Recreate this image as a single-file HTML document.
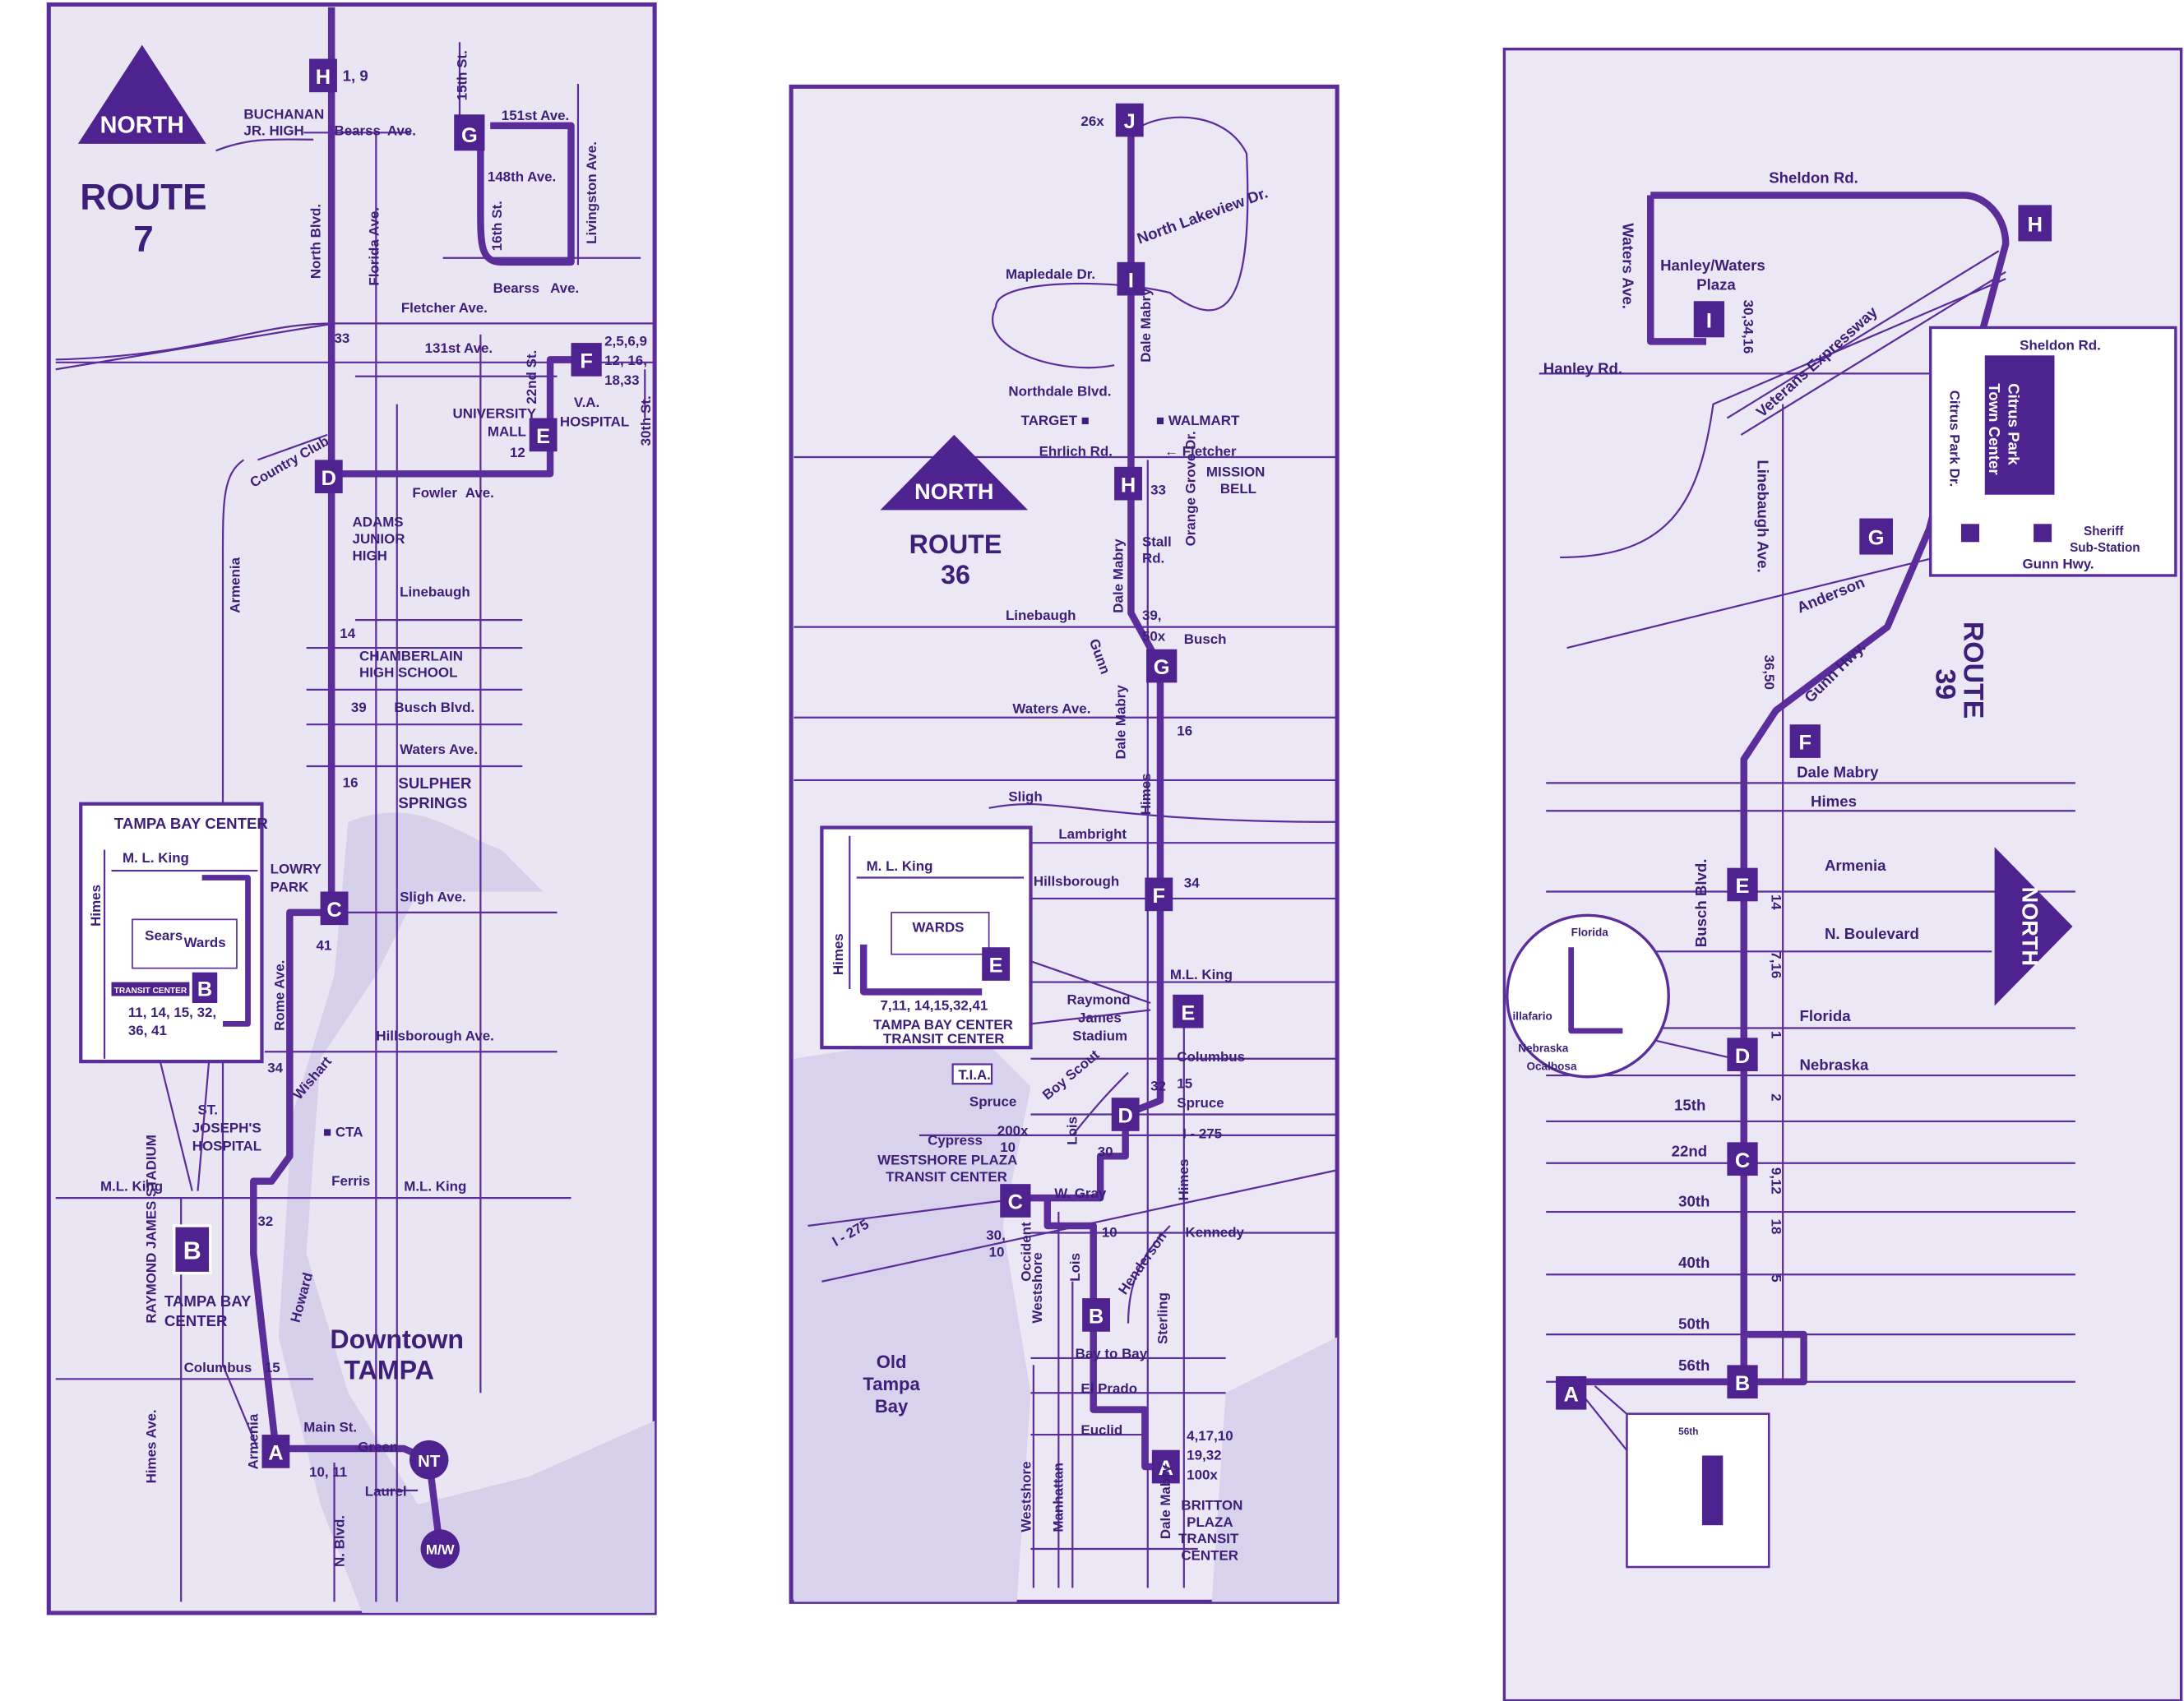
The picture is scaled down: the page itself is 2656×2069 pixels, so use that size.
<!DOCTYPE html>
<html><head><meta charset="utf-8"><style>
html,body{margin:0;padding:0;background:#fff}
svg{display:block}
text{font-family:"Liberation Sans",sans-serif;font-weight:bold;fill:#3d1f7a}
.l{stroke:#5a2d9a;stroke-width:1.3;fill:none}
.r{stroke:#5a2d9a;stroke-width:5;fill:none;stroke-linejoin:round}
.b{fill:#4e2390}
.w{fill:#fff;font-size:15px;font-weight:bold;text-anchor:middle}
.s{font-size:10px}
.m{font-size:11px}
</style></head><body>
<svg width="2656" height="2069" viewBox="0 0 1568 1221" xmlns="http://www.w3.org/2000/svg">
<rect width="1568" height="1221" fill="#fff"/>
<!-- panel backgrounds -->
<rect x="35" y="3" width="435" height="1155" fill="#e9e5f3" stroke="#5a2d9a" stroke-width="3"/>
<rect x="568" y="62" width="392" height="1088" fill="#ebe7f4" stroke="#5a2d9a" stroke-width="3"/>
<rect x="1080" y="35" width="486" height="1186" fill="#ebe7f4" stroke="#5a2d9a" stroke-width="2"/>
<!-- water shades -->
<path d="M250,590 C300,570 330,600 360,610 L390,640 L300,640 L270,700 L230,760 L220,900 L250,1000 L300,1080 L380,1060 L470,1020 L470,1158 L260,1158 L230,1080 L200,960 L210,800 L240,700 Z" fill="#d7d0ea"/>
<path d="M570,760 L700,740 L740,780 L720,880 L740,1000 L730,1150 L570,1150 Z" fill="#d9d2ec"/>
<path d="M880,1000 L960,960 L960,1150 L870,1150 Z" fill="#d9d2ec"/>

<!-- ===== PANEL 1 ===== -->
<g class="l">
<line x1="40" y1="260" x2="470" y2="260"/><line x1="40" y1="265" x2="240" y2="232"/>
<path d="M40,258 C150,255 180,232 240,232 L470,232"/>
<line x1="255" y1="270" x2="400" y2="270"/>
<line x1="218" y1="95" x2="295" y2="95"/>
<path d="M155,108 C180,98 200,100 225,100"/>
<line x1="318" y1="185" x2="460" y2="185"/>
<line x1="255" y1="445" x2="375" y2="445"/><line x1="220" y1="465" x2="375" y2="465"/>
<line x1="220" y1="495" x2="375" y2="495"/><line x1="220" y1="520" x2="375" y2="520"/>
<line x1="220" y1="550" x2="375" y2="550"/><line x1="250" y1="655" x2="400" y2="655"/>
<line x1="190" y1="755" x2="400" y2="755"/><line x1="40" y1="860" x2="410" y2="860"/>
<line x1="40" y1="990" x2="225" y2="990"/>
<line x1="270" y1="95" x2="270" y2="1150"/><line x1="285" y1="290" x2="285" y2="1150"/>
<line x1="345" y1="240" x2="345" y2="1000"/>
<path d="M175,330 C160,340 160,360 160,400 L160,980 L185,1040"/>
<line x1="130" y1="860" x2="130" y2="1150"/>
<line x1="240" y1="1050" x2="240" y2="1150"/>
<line x1="270" y1="1070" x2="300" y2="1070"/>
<line x1="330" y1="30" x2="330" y2="90"/><line x1="415" y1="60" x2="415" y2="190"/>
<line x1="463" y1="265" x2="463" y2="300"/>
<line x1="185" y1="330" x2="235" y2="312"/>
</g>
<path class="r" d="M238,5 V652 M240,655 H208 V830 L195,848 H182 V900 L198,1040 M198,1040 H290 L308,1048 L316,1112 M238,340 H395 V258 H420 M352,90 H410 V188 H360 C345,188 345,175 345,150 V90"/>
<polygon points="56,103 102,32 148,103" class="b"/><text x="102" y="95" class="w" style="font-size:17px">NORTH</text>
<text x="103" y="150" style="font-size:26px;font-family:'Liberation Sans Narrow','Liberation Sans',sans-serif" text-anchor="middle">ROUTE</text>
<text x="103" y="180" style="font-size:26px" text-anchor="middle">7</text>
<g>
<rect x="222" y="42" width="20" height="24" class="b"/><text x="232" y="60" class="w">H</text>
<rect x="326" y="82" width="22" height="26" class="b"/><text x="337" y="102" class="w">G</text>
<rect x="410" y="246" width="22" height="24" class="b"/><text x="421" y="264" class="w">F</text>
<rect x="380" y="300" width="20" height="24" class="b"/><text x="390" y="318" class="w">E</text>
<rect x="226" y="330" width="20" height="24" class="b"/><text x="236" y="348" class="w">D</text>
<rect x="230" y="640" width="20" height="24" class="b"/><text x="240" y="658" class="w">C</text>
<rect x="188" y="1030" width="20" height="24" class="b"/><text x="198" y="1048" class="w">A</text>
<circle cx="308" cy="1048" r="14" class="b"/><text x="308" y="1053" class="w" style="font-size:12px">NT</text>
<circle cx="316" cy="1112" r="14" class="b"/><text x="316" y="1116" class="w" style="font-size:10px">M/W</text>
<rect x="125" y="880" width="26" height="34" fill="#4e2390" stroke="#fff" stroke-width="2"/><text x="138" y="904" class="w" style="font-size:18px">B</text>
</g>
<g class="m">
<text x="246" y="58">1, 9</text><text x="175" y="85" class="s">BUCHANAN</text><text x="175" y="97" class="s">JR. HIGH</text>
<text x="240" y="97" class="s">Bearss</text><text x="278" y="97" class="s">Ave.</text>
<text x="360" y="86" class="s">151st Ave.</text><text x="350" y="130" class="s">148th Ave.</text>
<text x="354" y="210" class="s">Bearss</text><text x="395" y="210" class="s">Ave.</text>
<text x="288" y="224" class="s">Fletcher Ave.</text><text x="305" y="253" class="s">131st Ave.</text>
<text x="240" y="246" class="s">33</text>
<text x="434" y="248" class="s">2,5,6,9</text><text x="434" y="262" class="s">12, 16,</text><text x="434" y="276" class="s">18,33</text>
<text x="325" y="300" class="s">UNIVERSITY</text><text x="350" y="313" class="s">MALL</text><text x="366" y="328" class="s">12</text>
<text x="412" y="292" class="s">V.A.</text><text x="402" y="306" class="s">HOSPITAL</text>
<text x="296" y="357" class="s">Fowler</text><text x="334" y="357" class="s">Ave.</text>
<text x="253" y="378" class="s">ADAMS</text><text x="253" y="390" class="s">JUNIOR</text><text x="253" y="402" class="s">HIGH</text>
<text x="287" y="428" class="s">Linebaugh</text><text x="244" y="458" class="s">14</text>
<text x="258" y="474" class="s">CHAMBERLAIN</text><text x="258" y="486" class="s">HIGH SCHOOL</text>
<text x="252" y="511" class="s">39</text><text x="283" y="511" class="s">Busch Blvd.</text>
<text x="287" y="541" class="s">Waters Ave.</text><text x="246" y="565" class="s">16</text>
<text x="286" y="566">SULPHER</text><text x="286" y="580">SPRINGS</text>
<text x="194" y="627" class="s">LOWRY</text><text x="194" y="640" class="s">PARK</text>
<text x="287" y="647" class="s">Sligh Ave.</text><text x="227" y="682" class="s">41</text>
<text x="270" y="747" class="s">Hillsborough Ave.</text><text x="192" y="770" class="s">34</text>
<text x="142" y="800" class="s">ST.</text><text x="138" y="813" class="s">JOSEPH'S</text><text x="138" y="826" class="s">HOSPITAL</text>
<text x="232" y="816" class="s">■ CTA</text><text x="238" y="851" class="s">Ferris</text><text x="290" y="855" class="s">M.L. King</text>
<text x="72" y="855" class="s">M.L. King</text><text x="185" y="880" class="s">32</text>
<text x="118" y="938">TAMPA BAY</text><text x="118" y="952">CENTER</text>
<text x="132" y="985" class="s">Columbus</text><text x="190" y="985" class="s">15</text>
<text x="237" y="968" style="font-size:19px">Downtown</text><text x="247" y="990" style="font-size:19px">TAMPA</text>
<text x="218" y="1028" class="s">Main St.</text><text x="257" y="1042" class="s">Green</text>
<text x="222" y="1060" class="s">10, 11</text><text x="262" y="1074" class="s">Laurel</text>
</g>
<g class="s">
<text transform="translate(230,200) rotate(-90)">North Blvd.</text>
<text transform="translate(272,205) rotate(-90)">Florida Ave.</text>
<text transform="translate(335,72) rotate(-90)">15th St.</text>
<text transform="translate(360,180) rotate(-90)">16th St.</text>
<text transform="translate(428,175) rotate(-90)">Livingston Ave.</text>
<text transform="translate(385,290) rotate(-90)">22nd St.</text>
<text transform="translate(467,320) rotate(-90)">30th St.</text>
<text transform="translate(172,440) rotate(-90)">Armenia</text>
<text transform="translate(204,740) rotate(-90)">Rome Ave.</text>
<text transform="translate(112,950) rotate(-90)">RAYMOND JAMES STADIUM</text>
<text transform="translate(112,1065) rotate(-90)">Himes Ave.</text>
<text transform="translate(185,1055) rotate(-90)">Armenia</text>
<text transform="translate(247,1125) rotate(-90)">N. Blvd.</text>
<text transform="translate(182,350) rotate(-30)">Country Club</text>
<text transform="translate(215,950) rotate(-75)">Howard</text>
<text transform="translate(215,790) rotate(-50)">Wishart</text>
</g>
<!-- inset panel 1 -->
<rect x="58" y="577" width="130" height="185" fill="#fff" stroke="#5a2d9a" stroke-width="2.5"/>
<line class="l" x1="115" y1="762" x2="138" y2="855"/><line class="l" x1="150" y1="762" x2="142" y2="855"/>
<text x="82" y="595" class="m">TAMPA BAY CENTER</text>
<line class="l" x1="80" y1="625" x2="185" y2="625"/><text x="88" y="619" class="s">M. L. King</text>
<line class="l" x1="75" y1="610" x2="75" y2="760"/><text transform="translate(72,665) rotate(-90)" class="s">Himes</text>
<rect x="95" y="660" width="75" height="35" fill="none" stroke="#5a2d9a"/>
<text x="104" y="675" class="s">Sears</text><text x="132" y="680" class="s">Wards</text>
<path class="r" style="stroke-width:4" d="M145,630 H178 V735 H160"/>
<rect x="138" y="698" width="18" height="22" class="b"/><text x="147" y="715" class="w">B</text>
<rect x="80" y="705" width="56" height="10" class="b"/><text x="108" y="713" fill="#fff" style="font-size:6px;fill:#fff" text-anchor="middle">TRANSIT CENTER</text>
<text x="92" y="730" class="s">11, 14, 15, 32,</text><text x="92" y="743" class="s">36, 41</text>

<!-- ===== PANEL 2 ===== -->
<g class="l">
<path d="M715,220 C715,200 800,200 840,210 C880,240 900,220 895,110 C880,80 840,80 820,90"/>
<path d="M715,220 C700,250 760,270 800,262"/>
<line x1="570" y1="328" x2="960" y2="328"/><line x1="570" y1="450" x2="960" y2="450"/>
<line x1="570" y1="515" x2="960" y2="515"/><line x1="570" y1="560" x2="960" y2="560"/>
<path d="M710,580 C760,570 780,590 960,590"/><line x1="740" y1="605" x2="960" y2="605"/>
<line x1="740" y1="645" x2="960" y2="645"/><line x1="740" y1="705" x2="960" y2="705"/>
<line x1="740" y1="760" x2="960" y2="760"/><line x1="740" y1="800" x2="960" y2="800"/>
<line x1="660" y1="815" x2="960" y2="815"/><line x1="590" y1="920" x2="960" y2="840"/>
<line x1="740" y1="885" x2="960" y2="885"/><line x1="740" y1="975" x2="880" y2="975"/>
<line x1="740" y1="1000" x2="880" y2="1000"/><line x1="740" y1="1030" x2="820" y2="1030"/>
<line x1="740" y1="1112" x2="860" y2="1112"/>
<line x1="824" y1="330" x2="824" y2="1140"/><line x1="850" y1="720" x2="850" y2="1140"/>
<line x1="760" y1="870" x2="760" y2="1140"/><line x1="742" y1="980" x2="742" y2="1140"/>
<line x1="770" y1="920" x2="770" y2="1140"/>
<path d="M840,880 C820,900 810,920 810,950"/>
<path d="M770,815 C790,790 800,780 810,770"/>
<line x1="580" y1="880" x2="720" y2="862"/>
<rect x="684" y="764" width="28" height="14" fill="#fff"/>
</g>
<path class="r" d="M812,86 V440 L833,478 V790 L808,800 V830 H790 V860 H728 M752,862 V880 H785 V944 V1012 H822 V1053 H837"/>
<polygon points="632,366 685,312 738,366" class="b"/><text x="685" y="358" class="w" style="font-size:16px">NORTH</text>
<text x="686" y="397" style="font-size:19px" text-anchor="middle">ROUTE</text><text x="686" y="419" style="font-size:19px" text-anchor="middle">36</text>
<g>
<rect x="801" y="74" width="20" height="24" class="b"/><text x="811" y="92" class="w">J</text>
<rect x="802" y="188" width="20" height="24" class="b"/><text x="812" y="206" class="w">I</text>
<rect x="800" y="335" width="20" height="24" class="b"/><text x="810" y="353" class="w">H</text>
<rect x="823" y="466" width="22" height="24" class="b"/><text x="834" y="484" class="w">G</text>
<rect x="822" y="630" width="20" height="24" class="b"/><text x="832" y="648" class="w">F</text>
<rect x="842" y="714" width="22" height="24" class="b"/><text x="853" y="732" class="w">E</text>
<rect x="798" y="788" width="20" height="24" class="b"/><text x="808" y="806" class="w">D</text>
<rect x="718" y="850" width="22" height="24" class="b"/><text x="729" y="868" class="w">C</text>
<rect x="777" y="932" width="20" height="24" class="b"/><text x="787" y="950" class="w">B</text>
<rect x="827" y="1041" width="20" height="24" class="b"/><text x="837" y="1059" class="w">A</text>
</g>
<g class="s">
<text x="776" y="90">26x</text><text x="722" y="200">Mapledale Dr.</text><text x="724" y="284">Northdale Blvd.</text>
<text x="733" y="305">TARGET ■</text><text x="830" y="305">■ WALMART</text><text x="746" y="327">Ehrlich Rd.</text>
<text x="836" y="327">← Fletcher</text><text x="826" y="355">33</text><text x="866" y="342">MISSION</text><text x="876" y="354">BELL</text>
<text x="820" y="392">Stall</text><text x="820" y="404">Rd.</text><text x="722" y="445">Linebaugh</text>
<text x="820" y="445">39,</text><text x="820" y="460">50x</text><text x="850" y="462">Busch</text>
<text x="727" y="512">Waters Ave.</text><text x="845" y="528">16</text><text x="724" y="575">Sligh</text>
<text x="760" y="602">Lambright</text><text x="742" y="636">Hillsborough</text><text x="850" y="637">34</text>
<text x="840" y="703">M.L. King</text><text x="766" y="721">Raymond</text><text x="774" y="734">James</text><text x="770" y="747">Stadium</text>
<text x="845" y="762">Columbus</text><text x="826" y="783">32</text><text x="845" y="781">15</text><text x="845" y="795">Spruce</text>
<text x="696" y="794">Spruce</text><text x="688" y="775">T.I.A.</text><text x="849" y="817">I - 275</text>
<text x="716" y="815">200x</text><text x="718" y="827">10</text><text x="666" y="822">Cypress</text>
<text x="630" y="836">WESTSHORE PLAZA</text><text x="636" y="848">TRANSIT CENTER</text>
<text x="788" y="830">30</text><text x="757" y="860">W. Gray</text><text x="791" y="888">10</text><text x="851" y="888">Kennedy</text>
<text x="708" y="890">30,</text><text x="710" y="902">10</text><text x="772" y="975">Bay to Bay</text><text x="776" y="1000">El Prado</text>
<text x="776" y="1030">Euclid</text><text x="852" y="1034">4,17,10</text><text x="852" y="1048">19,32</text><text x="852" y="1062">100x</text>
<text x="848" y="1084">BRITTON</text><text x="852" y="1096">PLAZA</text><text x="846" y="1108">TRANSIT</text><text x="848" y="1120">CENTER</text>
<text transform="translate(826,260) rotate(-90)">Dale Mabry</text>
<text transform="translate(806,440) rotate(-90)">Dale Mabry</text>
<text transform="translate(808,545) rotate(-90)">Dale Mabry</text>
<text transform="translate(826,585) rotate(-90)">Himes</text>
<text transform="translate(853,862) rotate(-90)">Himes</text>
<text transform="translate(840,1105) rotate(-90)">Dale Mabry</text>
<text transform="translate(775,920) rotate(-90)">Lois</text><text transform="translate(773,822) rotate(-90)">Lois</text>
<text transform="translate(748,950) rotate(-90)">Westshore</text><text transform="translate(740,1100) rotate(-90)">Westshore</text>
<text transform="translate(763,1100) rotate(-90)">Manhattan</text><text transform="translate(740,920) rotate(-90)">Occident</text>
<text transform="translate(838,965) rotate(-90)">Sterling</text>
<text transform="translate(858,392) rotate(-90)">Orange Grove Dr.</text>
<text transform="translate(808,930) rotate(-55)">Henderson</text>
<text transform="translate(752,790) rotate(-40)">Boy Scout</text>
<text transform="translate(782,460) rotate(70)">Gunn</text>
<text transform="translate(600,895) rotate(-30)">I - 275</text>
<text transform="translate(818,175) rotate(-20)" style="font-size:11px">North Lakeview Dr.</text>
</g>
<text x="640" y="982" class="m" text-anchor="middle" style="font-size:13px">Old</text>
<text x="640" y="998" class="m" text-anchor="middle" style="font-size:13px">Tampa</text>
<text x="640" y="1014" class="m" text-anchor="middle" style="font-size:13px">Bay</text>
<!-- inset 2 -->
<rect x="590" y="594" width="150" height="158" fill="#fff" stroke="#5a2d9a" stroke-width="2.5"/>
<line class="l" x1="740" y1="690" x2="826" y2="720"/><line class="l" x1="740" y1="735" x2="826" y2="725"/>
<line class="l" x1="615" y1="630" x2="735" y2="630"/><text x="622" y="625" class="s">M. L. King</text>
<line class="l" x1="610" y1="600" x2="610" y2="710"/><text transform="translate(605,700) rotate(-90)" class="s">Himes</text>
<rect x="640" y="655" width="70" height="30" fill="none" stroke="#5a2d9a"/><text x="655" y="669" class="s">WARDS</text>
<path class="r" d="M620,678 V712 H705"/>
<rect x="705" y="680" width="20" height="24" class="b"/><text x="715" y="698" class="w">E</text>
<text x="632" y="725" class="s">7,11, 14,15,32,41</text>
<text x="627" y="739" class="s">TAMPA BAY CENTER</text><text x="634" y="749" class="s">TRANSIT CENTER</text>

<!-- ===== PANEL 3 ===== -->
<g class="l">
<line x1="1105" y1="268" x2="1440" y2="268"/>
<path d="M1120,400 C1200,400 1220,360 1230,290 L1440,200"/>
<path d="M1125,465 L1390,400"/>
<line x1="1110" y1="562" x2="1490" y2="562"/><line x1="1110" y1="582" x2="1490" y2="582"/>
<line x1="1110" y1="640" x2="1490" y2="640"/><line x1="1110" y1="683" x2="1430" y2="683"/>
<line x1="1110" y1="738" x2="1490" y2="738"/><line x1="1110" y1="772" x2="1490" y2="772"/>
<line x1="1110" y1="805" x2="1490" y2="805"/><line x1="1110" y1="835" x2="1490" y2="835"/>
<line x1="1110" y1="870" x2="1490" y2="870"/><line x1="1110" y1="915" x2="1490" y2="915"/>
<line x1="1110" y1="958" x2="1490" y2="958"/><line x1="1110" y1="992" x2="1490" y2="992"/>
<line x1="1280" y1="290" x2="1280" y2="992"/>
<line x1="1240" y1="300" x2="1435" y2="180"/><line x1="1250" y1="312" x2="1440" y2="195"/>
<line x1="1135" y1="1000" x2="1175" y2="1050"/><line x1="1145" y1="995" x2="1185" y2="1030"/>
<line x1="1180" y1="745" x2="1245" y2="760"/>
</g>
<path class="r" d="M1185,140 V245 H1225 M1185,140 H1410 C1425,140 1440,155 1440,175 L1385,380 L1355,450 L1275,510 L1252,545 V992 H1128 M1252,992 V958 H1295 V992 H1252"/>
<g>
<rect x="1449" y="147" width="24" height="26" class="b"/><text x="1461" y="166" class="w">H</text>
<rect x="1216" y="216" width="22" height="26" class="b"/><text x="1227" y="235" class="w">I</text>
<rect x="1335" y="372" width="24" height="26" class="b"/><text x="1347" y="391" class="w">G</text>
<rect x="1285" y="520" width="22" height="24" class="b"/><text x="1296" y="538" class="w">F</text>
<rect x="1240" y="623" width="22" height="24" class="b"/><text x="1251" y="641" class="w">E</text>
<rect x="1240" y="745" width="22" height="24" class="b"/><text x="1251" y="763" class="w">D</text>
<rect x="1240" y="820" width="22" height="24" class="b"/><text x="1251" y="838" class="w">C</text>
<rect x="1240" y="980" width="22" height="24" class="b"/><text x="1251" y="998" class="w">B</text>
<rect x="1117" y="988" width="22" height="24" class="b"/><text x="1128" y="1006" class="w">A</text>
</g>
<polygon points="1432,608 1488,665 1432,722" class="b"/>
<text transform="translate(1452,665) rotate(90)" class="w" style="font-size:16px">NORTH</text>
<text transform="translate(1410,446) rotate(90)" style="font-size:20px">ROUTE</text>
<text transform="translate(1390,480) rotate(90)" style="font-size:20px">39</text>
<g class="m">
<text x="1270" y="131">Sheldon Rd.</text><text x="1108" y="268">Hanley Rd.</text>
<text x="1192" y="194">Hanley/Waters</text><text x="1218" y="208">Plaza</text>
<text x="1290" y="558">Dale Mabry</text><text x="1300" y="579">Himes</text><text x="1310" y="625">Armenia</text>
<text x="1310" y="674">N. Boulevard</text><text x="1292" y="733">Florida</text><text x="1292" y="768">Nebraska</text>
<text x="1202" y="797">15th</text><text x="1200" y="830">22nd</text><text x="1205" y="866">30th</text>
<text x="1205" y="910">40th</text><text x="1205" y="954">50th</text><text x="1205" y="984">56th</text>
</g>
<g class="m">
<text transform="translate(1165,160) rotate(90)">Waters Ave.</text>
<text transform="translate(1252,215) rotate(90)" class="s">30,34,16</text>
<text transform="translate(1262,330) rotate(90)">Linebaugh Ave.</text>
<text transform="translate(1267,470) rotate(90)" class="s">36,50</text>
<text transform="translate(1265,300) rotate(-42)">Veterans Expressway</text>
<text transform="translate(1292,440) rotate(-22)">Anderson</text>
<text transform="translate(1300,505) rotate(-45)">Gunn Hwy.</text>
<text transform="translate(1225,680) rotate(-90)">Busch Blvd.</text>
<text transform="translate(1272,642) rotate(90)" class="s">14</text>
<text transform="translate(1272,683) rotate(90)" class="s">7,16</text>
<text transform="translate(1272,740) rotate(90)" class="s">1</text>
<text transform="translate(1272,785) rotate(90)" class="s">2</text>
<text transform="translate(1272,838) rotate(90)" class="s">9,12</text>
<text transform="translate(1272,875) rotate(90)" class="s">18</text>
<text transform="translate(1272,915) rotate(90)" class="s">5</text>
</g>
<!-- citrus park box -->
<rect x="1386" y="235" width="176" height="178" fill="#fff" stroke="#5a2d9a" stroke-width="2"/>
<text x="1450" y="251" class="s">Sheldon Rd.</text><text x="1452" y="408" class="s">Gunn Hwy.</text>
<rect x="1425" y="255" width="50" height="100" class="b"/>
<text transform="translate(1442,275) rotate(90)" class="w" style="font-size:11px;text-anchor:start">Citrus Park</text>
<text transform="translate(1428,275) rotate(90)" class="w" style="font-size:11px;text-anchor:start">Town Center</text>
<text transform="translate(1400,280) rotate(90)" class="s">Citrus Park Dr.</text>
<rect x="1408" y="376" width="13" height="13" class="b"/><rect x="1460" y="376" width="13" height="13" class="b"/>
<text x="1496" y="384" class="s" style="font-size:9px">Sheriff</text><text x="1486" y="396" class="s" style="font-size:9px">Sub-Station</text>
<!-- circle inset -->
<circle cx="1140" cy="715" r="58" fill="#fff" stroke="#5a2d9a" stroke-width="2"/>
<path class="r" style="stroke-width:4" d="M1128,680 V740 H1165"/>
<text x="1128" y="672" class="s" style="font-size:8px">Florida</text><text x="1086" y="732" class="s" style="font-size:8px">illafario</text>
<text x="1090" y="755" class="s" style="font-size:8px">Nebraska</text><text x="1096" y="768" class="s" style="font-size:8px">Ocalbosa</text>
<!-- bottom inset -->
<rect x="1168" y="1015" width="102" height="110" fill="#fff" stroke="#5a2d9a" stroke-width="1.5"/>
<text x="1205" y="1030" class="s" style="font-size:7px">56th</text>
<rect x="1222" y="1045" width="15" height="50" class="b"/>
</svg>
</body></html>
